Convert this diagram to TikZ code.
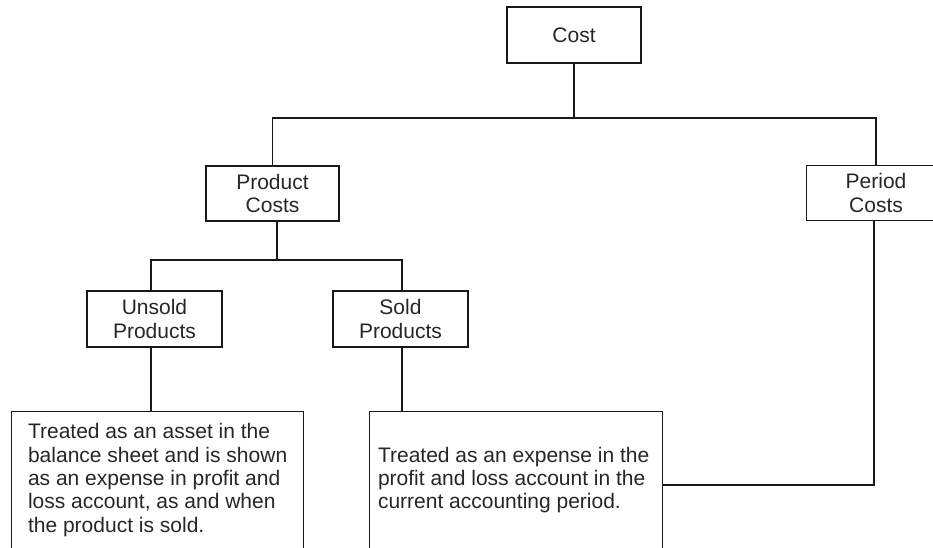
\documentclass[tikz,border=0pt]{standalone}
\usepackage{fontspec}
\setmainfont{Liberation Sans}
\begin{document}
\begin{tikzpicture}[x=1pt,y=-1pt,
  conn/.style={line width=1.3pt, draw=black!90},
  box/.style={draw=black!90, line width=1.3pt, inner sep=0pt, align=center,
    font=\fontsize{21}{23.3}\selectfont, text=black!85},
  bigbox/.style={box, anchor=north west, align=left, inner ysep=0pt}]
\useasboundingbox (0,0) rectangle (933,548);

\node[box, minimum width=134pt, minimum height=56pt] (cost) at (574,35) {Cost};
\node[box, minimum width=133pt, minimum height=55pt] (prod) at (272.5,193.5) {Product\\Costs};
\node[box, draw=none, minimum width=138pt, minimum height=54pt] (period) at (876,193) {Period\\Costs};
\draw[conn] ([xshift=20pt]period.north east) -- (period.north west) -- (period.south west) -- ([xshift=20pt]period.south east);
\node[box, minimum width=135pt, minimum height=56pt] (unsold) at (154.5,319) {Unsold\\Products};
\node[box, minimum width=135pt, minimum height=56pt] (sold) at (400.5,319) {Sold\\Products};

\node[bigbox, minimum width=292pt, minimum height=137pt] (left) at (11,411)
  {Treated as an asset in the\\balance sheet and is shown\\as an expense in profit and\\loss account, as and when\\the product is sold.};
\node[bigbox, minimum width=293pt, minimum height=137pt] (right) at (369,411)
  {\hspace*{-5pt}Treated as an expense in the\\\hspace*{-5pt}profit and loss account in the\\\hspace*{-5pt}current accounting period.};

\coordinate (j1) at (574,118);
\coordinate (j2) at (277,260);
\coordinate (p2) at (874,485);

\draw[conn] (cost.south) -- (j1);
\draw[conn] (prod.north) |- (j1) -| (period.north);
\draw[conn] ([xshift=4.5pt]prod.south) -- (j2);
\draw[conn] ([xshift=-3.5pt]unsold.north) |- (j2) -| ([xshift=1.5pt]sold.north);
\draw[conn] ([xshift=-3.5pt]unsold.south) -- ([xshift=-3.5pt]unsold.south |- left.north);
\draw[conn] ([xshift=1.5pt]sold.south) -- ([xshift=1.5pt]sold.south |- right.north);
\draw[conn] (p2 |- period.south) -- (p2) -- (p2 -| right.east);
\end{tikzpicture}
\end{document}
